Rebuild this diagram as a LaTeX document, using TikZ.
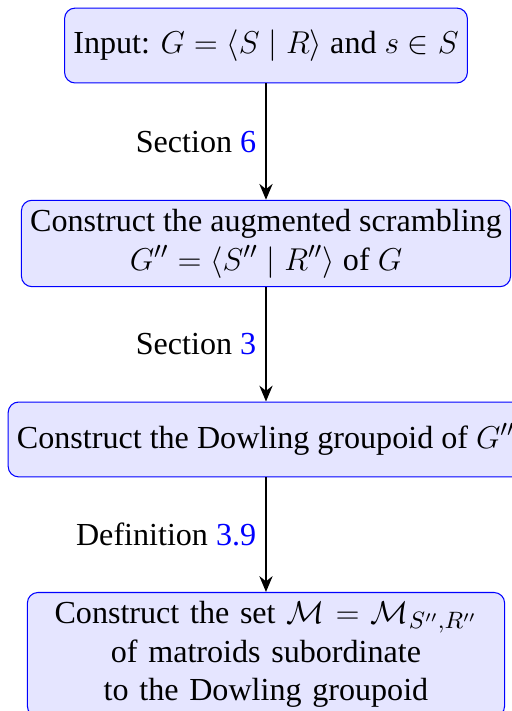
\documentclass[tikz,border=0pt]{standalone}
\usepackage{fontspec}
\setmainfont{Liberation Serif}
\usetikzlibrary{arrows.meta, positioning}
\tikzset{
  every picture/.style={font=\fontsize{12.2pt}{14.7pt}\selectfont},
  box/.style={draw=blue, fill=blue!10, rounded corners=4pt, align=center, minimum height=1cm},
  arrow/.style={-{Stealth[length=6pt, width=5pt]}, draw=black, thick},
  ref/.style={left=0pt},
}
\begin{document}
\begin{tikzpicture}
  \useasboundingbox (-3.553,0.608) rectangle (3.285,-8.889);
  \node[box] (input) at (0,0) {Input: $G=\langle S\mid R\rangle$ and $s\in S$};
  \node[box] (scramble) at (0,-2.644) {Construct the augmented scrambling\\ $G''=\langle S''\mid R''\rangle$ of $G$};
  \node[box] (dowling) at (0,-5.262) {Construct the Dowling groupoid of $G''$};
  \node[box, text width=6.14cm, anchor=north] (matroids) at (0,-7.299) {Construct the set $\mathcal{M}=\mathcal{M}_{S'',R''}$\\ of matroids subordinate\\ to the Dowling groupoid};
  % steps
  \draw[arrow] (input) -- node[ref] {Section \textcolor{blue}{6}} (scramble);
  \draw[arrow] (scramble) -- node[ref] {Section \textcolor{blue}{3}} (dowling);
  \draw[arrow] (dowling) -- node[ref] {Definition \textcolor{blue}{3.9}} (matroids);
\end{tikzpicture}
\end{document}
